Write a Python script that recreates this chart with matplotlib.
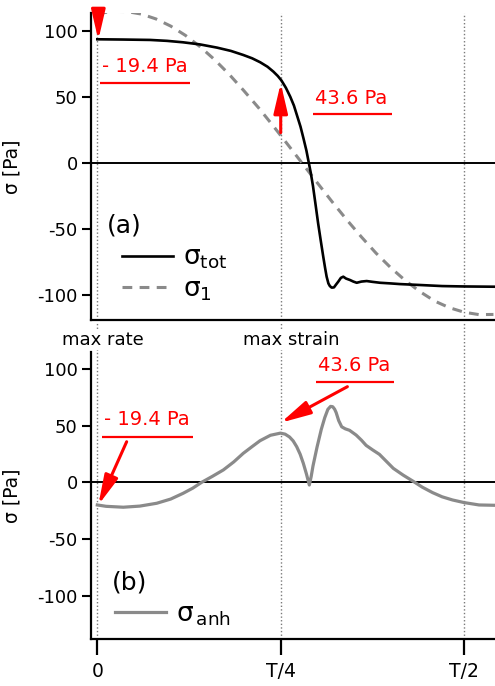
import matplotlib
matplotlib.use("Agg")
import matplotlib.pyplot as plt
import matplotlib.transforms as mtransforms

plt.rcParams['font.family'] = ['DejaVu Sans']
plt.rcParams['mathtext.default'] = 'regular'
plt.rcParams['axes.unicode_minus'] = False

# ---- data (time in units of the period T) ----
t_tot = [0.0, 0.035, 0.072, 0.095, 0.117, 0.14, 0.163, 0.182, 0.199, 0.211,
         0.222, 0.232, 0.240, 0.246, 0.251, 0.257, 0.263, 0.268, 0.272, 0.277,
         0.281, 0.285, 0.288, 0.291, 0.294, 0.2975, 0.301, 0.3045, 0.308, 0.3105,
         0.3126, 0.315, 0.317, 0.3195, 0.3226, 0.3255, 0.3284, 0.332, 0.3353, 0.339,
         0.3444, 0.349, 0.3536, 0.36, 0.3672, 0.375, 0.3854, 0.40, 0.4126, 0.44,
         0.47, 0.50, 0.542]
sigma_tot = [93.7, 93.5, 93.2, 92.5, 91.4, 89.8, 87.4, 84.9, 81.8, 79.3,
             76.3, 72.9, 69.2, 65.9, 62.5, 57.0, 50.2, 43.5, 36.4, 27.5,
             18.7, 9.5, 1.0, -7.5, -17.5, -31.5, -45.7, -58.5, -71.0, -79.5,
             -86.1, -91.2, -93.2, -94.4, -94.2, -92.0, -89.9, -87.0, -86.1, -87.5,
             -88.6, -89.8, -90.7, -89.8, -89.4, -90.0, -90.7, -91.2, -91.7, -92.4,
             -93.2, -93.5, -93.7]

t_1 = [0.0, 0.02, 0.04, 0.06, 0.08, 0.10, 0.12, 0.14, 0.16, 0.18, 0.20, 0.22, 0.24, 0.26,
       0.28, 0.30, 0.32, 0.34, 0.36, 0.38, 0.40, 0.42, 0.44, 0.46, 0.48, 0.50, 0.52, 0.54]
sigma_1 = [113.1, 114.8, 114.7, 112.8, 109.1, 103.7, 96.7, 88.1, 78.2, 67.0, 54.6, 41.7, 27.9, 13.7,
           -0.7, -15.1, -29.3, -43.0, -56.0, -68.3, -79.3, -89.1, -97.5, -104.6, -109.6, -113.0, -114.8, -114.7]

t_anh = [0.0, 0.012, 0.0354, 0.058, 0.081, 0.10, 0.117, 0.13, 0.1423, 0.157,
         0.1718, 0.186, 0.199, 0.211, 0.2218, 0.236, 0.2496, 0.256, 0.262, 0.267,
         0.2718, 0.2765, 0.2808, 0.285, 0.289, 0.2915, 0.294, 0.2995, 0.3053, 0.310,
         0.3143, 0.318, 0.3209, 0.3235, 0.3256, 0.329, 0.3331, 0.338, 0.3438, 0.3528,
         0.36, 0.3664, 0.3755, 0.3845, 0.394, 0.4035, 0.417, 0.4298, 0.443, 0.457,
         0.47, 0.4842, 0.5, 0.5204, 0.542]
sigma_anh = [-20.0, -21.2, -22.0, -21.0, -18.5, -14.8, -9.7, -5.2, 0.0, 5.3,
             10.9, 18.0, 25.6, 31.5, 36.7, 41.5, 43.4, 42.5, 40.0, 36.5,
             31.4, 24.8, 16.8, 7.5, -2.4, 5.0, 14.4, 31.0, 46.7, 57.0,
             64.4, 67.0, 66.7, 64.5, 61.5, 54.5, 49.0, 47.2, 45.9, 41.7,
             37.2, 32.6, 28.5, 24.7, 18.5, 12.3, 6.3, 1.2, -4.3, -9.1,
             -12.8, -15.6, -17.9, -20.0, -20.3]

x_ticks = [0.0, 0.25, 0.5]
x_ticklabels = ['0', 'T/4', 'T/2']
y_ticks = [100, 50, 0, -50, -100]
marker_lines = [0.0, 0.25, 0.5]
marker_names = ['max rate', 'max strain']
marker_name_x = [0.0078, 0.264]

# annotations: (text, x, y, underline y, underline x0, x1)
ann_top = [('- 19.4 Pa', 0.065, 73.0, 60.8, 0.0037, 0.1263),
           ('43.6 Pa', 0.3458, 49.2, 37.1, 0.294, 0.4017)]
ann_bot = [('- 19.4 Pa', 0.0677, 55.0, 40.2, 0.0064, 0.1304),
           ('43.6 Pa', 0.350, 103.5, 88.8, 0.2981, 0.4044)]
# arrows: (tail x, tail y, tip x, tip y)
arr_top = [(0.0014, 113.6, 0.0014, 93.2), (0.25, 23.0, 0.25, 60.5)]
arr_bot = [(0.040, 35.8, 0.0014, -20.0), (0.3409, 84.4, 0.25, 52.6)]

W, H = 495, 686
fig = plt.figure(figsize=(W / 100, H / 100), dpi=100)
ax1 = fig.add_axes([91 / W, (H - 320) / H, 404 / W, 307 / H])
ax2 = fig.add_axes([91 / W, (H - 639) / H, 404 / W, 287 / H])

XL = (-0.0086, 0.5421)
dot_style = dict(color='#7a7a7a', lw=1.0, ls=(0, (1, 1.6)))
gray = '#8a8a8a'
red = '#ff0000'

for ax in (ax1, ax2):
    ax.set_xlim(*XL)
    for s in ('top', 'right'):
        ax.spines[s].set_visible(False)
    for s in ('left', 'bottom'):
        ax.spines[s].set_linewidth(1.6)
    ax.axhline(0, color='black', lw=1.4, zorder=2)
    ax.set_yticks(y_ticks)
    ax.set_yticklabels([str(v) for v in y_ticks])
    ax.tick_params(axis='y', length=6.5, width=1.5, pad=3, labelsize=13)
    ax.set_ylabel('σ [Pa]', fontsize=13.5)
    ax.yaxis.set_label_coords(-0.171, 0.5)

# ---- top panel ----
ax1.set_ylim(-118.9, 113.6)
for xv in marker_lines:
    ax1.axvline(xv, zorder=1, **dot_style)
ax1.plot(t_tot, sigma_tot, color='black', lw=1.9, zorder=4, label=r'$\sigma_{tot}$',
         solid_joinstyle='round')
ax1.plot(t_1, sigma_1, color=gray, lw=2.2, dashes=(3.2, 2.4), zorder=3, label=r'$\sigma_{1}$')
ax1.set_xticks([])
ax1.tick_params(axis='x', length=0)
leg1 = ax1.legend(loc='upper left', bbox_to_anchor=(0.0767, 0.245), frameon=False,
                  fontsize=19, handlelength=1.93, handletextpad=0.38, labelspacing=0.2,
                  borderpad=0, borderaxespad=0)
ax1.text(0.0396, 0.309, '(a)', transform=ax1.transAxes, fontsize=18, va='center', ha='left')

# ---- bottom panel ----
ax2.set_ylim(-138.3, 115)
for xv in marker_lines:
    ax2.axvline(xv, ymax=(639 - 322) / 287, clip_on=False, zorder=1, **dot_style)
ax2.plot(t_anh, sigma_anh, color=gray, lw=2.3, zorder=4, label=r'$\sigma_{\,anh}$',
         solid_joinstyle='round')
ax2.set_xticks(x_ticks)
ax2.set_xticklabels(x_ticklabels)
ax2.tick_params(axis='x', length=11.5, width=1.6, pad=5, labelsize=13.5)
leg2 = ax2.legend(loc='upper left', bbox_to_anchor=(0.0594, 0.13), frameon=False,
                  fontsize=19, handlelength=1.93, handletextpad=0.38,
                  borderpad=0, borderaxespad=0)
ax2.text(0.051, 0.198, '(b)', transform=ax2.transAxes, fontsize=18, va='center', ha='left')

blend = mtransforms.blended_transform_factory(ax2.transData, ax2.transAxes)
for name, xv in zip(marker_names, marker_name_x):
    ax2.text(xv, (639 - 340) / 287, name, transform=blend, ha='center', va='center', fontsize=13,
             bbox=dict(facecolor='white', edgecolor='none', pad=1.0), zorder=5, clip_on=False)

# ---- red annotations ----
for ax, anns, arrs in ((ax1, ann_top, arr_top), (ax2, ann_bot, arr_bot)):
    for txt, tx, ty, uy, ux0, ux1 in anns:
        ax.text(tx, ty, txt, color=red, fontsize=14, ha='center', va='center', zorder=6)
        ax.hlines(uy, ux0, ux1, color=red, lw=1.6, zorder=6)
    for x0, y0, x1, y1 in arrs:
        ax.annotate('', xy=(x1, y1), xytext=(x0, y0), zorder=7, annotation_clip=False,
                    arrowprops=dict(arrowstyle='-|>,head_length=1.2,head_width=0.28',
                                    mutation_scale=15, color=red, lw=2.2,
                                    shrinkA=0, shrinkB=0))

fig.savefig('out.png', dpi=100)
